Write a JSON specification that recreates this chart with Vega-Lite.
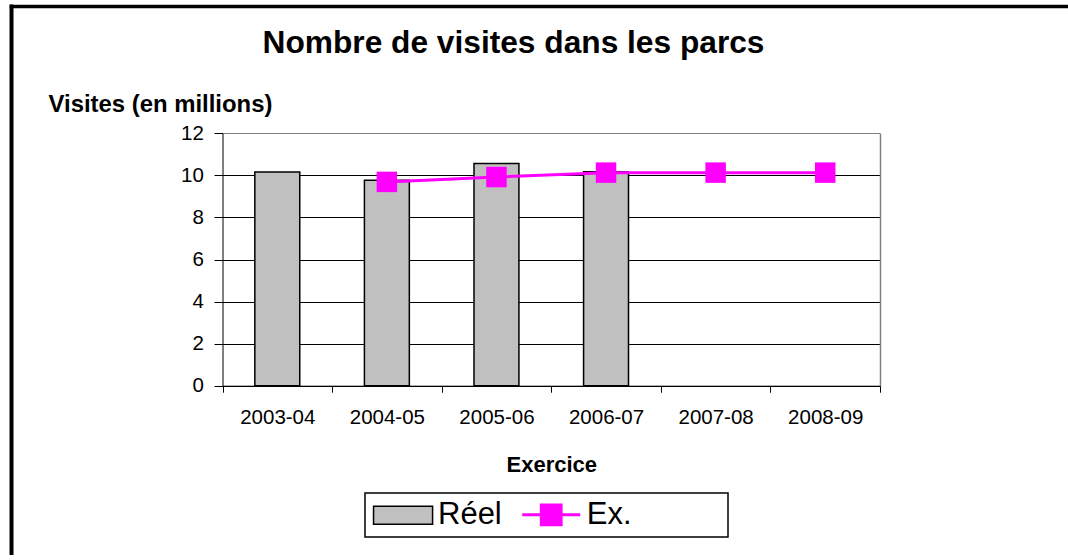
{
  "$schema": "https://vega.github.io/schema/vega-lite/v6.json",
  "width": 1057,
  "height": 549,
  "autosize": {"type": "none"},
  "padding": {"left": 11, "top": 6, "right": 0, "bottom": 0},
  "background": "white",
  "title": {
    "text": "Nombre de visites dans les parcs",
    "font": "Liberation Sans",
    "fontSize": 31.7,
    "fontWeight": "bold",
    "color": "black",
    "anchor": "middle",
    "frame": "group",
    "baseline": "alphabetic",
    "offset": 0,
    "dx": -26,
    "dy": 78.5
  },
  "data": {
    "values": [
      {"exercice": "2003-04", "serie": "Réel", "valeur": 10.16},
      {"exercice": "2004-05", "serie": "Réel", "valeur": 9.77},
      {"exercice": "2005-06", "serie": "Réel", "valeur": 10.57},
      {"exercice": "2006-07", "serie": "Réel", "valeur": 10.17},
      {"exercice": "2004-05", "serie": "Ex.", "valeur": 9.69},
      {"exercice": "2005-06", "serie": "Ex.", "valeur": 9.92},
      {"exercice": "2006-07", "serie": "Ex.", "valeur": 10.13},
      {"exercice": "2007-08", "serie": "Ex.", "valeur": 10.13},
      {"exercice": "2008-09", "serie": "Ex.", "valeur": 10.13}
    ]
  },
  "layer": [
    {
      "encoding": {
        "x": {
          "field": "exercice",
          "type": "nominal",
          "sort": null,
          "scale": {
            "domain": ["2003-04", "2004-05", "2005-06", "2006-07", "2007-08", "2008-09"],
            "range": [211.5, 869],
            "paddingInner": 0,
            "paddingOuter": 0
          },
          "axis": {
            "title": "Exercice",
            "titleFont": "Liberation Sans",
            "titleFontSize": 22,
            "titleFontWeight": "bold",
            "titleColor": "black",
            "titleBaseline": "alphabetic",
            "titleY": 86,
            "offset": -169.3,
            "labelAngle": 0,
            "labelFont": "Liberation Sans",
            "labelFontSize": 20.5,
            "labelColor": "black",
            "labelPadding": 15,
            "tickBand": "extent",
            "tickSize": 6.5,
            "tickColor": "black",
            "tickWidth": 1,
            "domainColor": "black",
            "domainWidth": 1,
            "grid": false
          }
        },
        "stroke": {
          "field": "serie",
          "type": "nominal",
          "scale": {"domain": ["Réel", "Ex."], "range": ["#000000", "#ff00ff"]},
          "legend": {
            "title": null,
            "orient": "none",
            "legendX": 354,
            "legendY": 487,
            "direction": "horizontal",
            "strokeColor": "black",
            "fillColor": "white",
            "padding": 6,
            "labelFont": "Liberation Sans",
            "labelFontSize": 31,
            "labelColor": "black",
            "labelOffset": 36,
            "columnPadding": 13.7,
            "symbolSize": 1296,
            "encode": {
              "legend": {"update": {"strokeWidth": {"value": 1.5}}},
              "symbols": {
                "update": {
                  "shape": {"signal": "datum.value === 'Réel' ? 'M-0.72,-0.5H2.56V0.5H-0.72Z' : 'M-0.72,0H2.5M0.34,-0.55H1.44V0.55H0.34ZM10,0'"},
                  "strokeWidth": {"signal": "datum.value === 'Réel' ? 1.5 : 3"},
                  "opacity": {"value": 1},
                  "fillOpacity": {"value": 1},
                  "strokeOpacity": {"value": 1}
                }
              }
            }
          }
        }
      },
      "layer": [
        {
          "transform": [{"filter": "datum.serie === 'Réel'"}],
          "mark": {"type": "bar", "width": {"band": 0.41}, "strokeWidth": 1.5, "fillOpacity": 1},
          "encoding": {
            "fill": {
              "field": "serie",
              "type": "nominal",
              "scale": {"domain": ["Réel", "Ex."], "range": ["#c0c0c0", "#ff00ff"]},
              "legend": {
                "title": null,
                "orient": "none",
                "legendX": 354,
                "legendY": 487,
                "direction": "horizontal",
                "strokeColor": "black",
                "fillColor": "white",
                "padding": 6,
                "labelFont": "Liberation Sans",
                "labelFontSize": 31,
                "labelColor": "black",
                "labelOffset": 36,
                "columnPadding": 13.7,
                "symbolSize": 1296
              }
            },
            "y": {
              "field": "valeur",
              "type": "quantitative",
              "scale": {"domain": [0, 12], "range": [379.7, 127.3], "nice": false, "zero": true},
              "axis": {
                "orient": "left",
                "offset": -211.5,
                "values": [0, 2, 4, 6, 8, 10, 12],
                "title": "Visites (en millions)",
                "titleFont": "Liberation Sans",
                "titleFontSize": 23.9,
                "titleFontWeight": "bold",
                "titleColor": "black",
                "titleAngle": 0,
                "titleAlign": "left",
                "titleBaseline": "alphabetic",
                "titleX": -174.5,
                "titleY": 105.7,
                "labelFont": "Liberation Sans",
                "labelFontSize": 20.5,
                "labelColor": "black",
                "labelPadding": 10.7,
                "tickSize": 8.5,
                "tickColor": "black",
                "tickWidth": 1,
                "domainColor": "black",
                "domainWidth": 1,
                "grid": true,
                "gridColor": {"condition": {"test": "datum.value === 12", "value": "#808080"}, "value": "#000000"},
                "gridWidth": 1,
                "gridOpacity": 1
              }
            }
          }
        },
        {
          "transform": [{"filter": "datum.serie === 'Ex.'"}],
          "mark": {"type": "line", "strokeWidth": 3},
          "encoding": {
            "y": {
              "field": "valeur",
              "type": "quantitative",
              "axis": {
                "orient": "right",
                "offset": -188,
                "labels": false,
                "ticks": false,
                "grid": false,
                "title": null,
                "domainColor": "#808080",
                "domainWidth": 1.5
              }
            }
          }
        },
        {
          "transform": [{"filter": "datum.serie === 'Ex.'"}],
          "mark": {"type": "point", "shape": "square", "filled": true, "size": 420, "opacity": 1, "strokeWidth": 0},
          "encoding": {
            "y": {"field": "valeur", "type": "quantitative", "axis": null},
            "fill": {
              "field": "serie",
              "type": "nominal",
              "legend": {
                "title": null,
                "orient": "none",
                "legendX": 354,
                "legendY": 487,
                "direction": "horizontal",
                "strokeColor": "black",
                "fillColor": "white",
                "padding": 6,
                "labelFont": "Liberation Sans",
                "labelFontSize": 31,
                "labelColor": "black",
                "labelOffset": 36,
                "columnPadding": 13.7,
                "symbolSize": 1296
              }
            }
          }
        }
      ],
      "resolve": {"axis": {"y": "independent"}}
    },
    {
      "mark": {"type": "point", "opacity": 0},
      "encoding": {
        "x": {
          "field": "valeur",
          "type": "quantitative",
          "scale": {"domain": [0, 20], "nice": false},
          "axis": {"orient": "top", "offset": 0, "labels": false, "ticks": false, "grid": false, "title": null, "domainColor": "black", "domainWidth": 3.5, "domainCap": "square"}
        },
        "y": {
          "field": "valeur",
          "type": "quantitative",
          "scale": {"domain": [0, 20], "nice": false},
          "axis": {"orient": "left", "offset": 0, "labels": false, "ticks": false, "grid": false, "title": null, "domainColor": "black", "domainWidth": 4, "domainCap": "square"}
        }
      }
    }
  ],
  "resolve": {"scale": {"x": "independent", "y": "independent"}, "axis": {"x": "independent", "y": "independent"}},
  "config": {
    "view": {"stroke": null},
    "font": "Liberation Sans"
  }
}
